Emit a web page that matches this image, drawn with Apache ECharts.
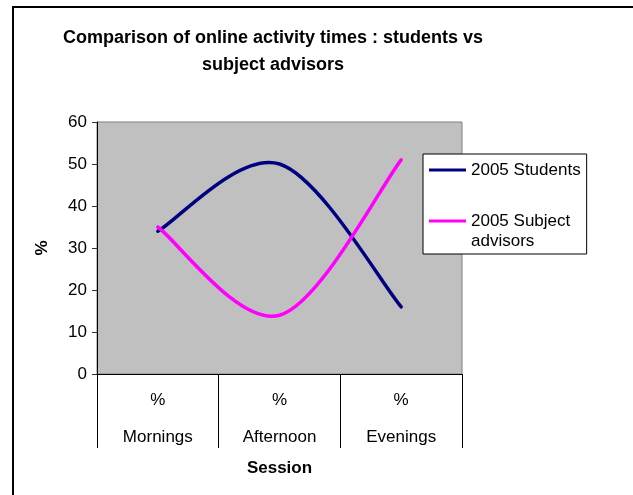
<!DOCTYPE html>
<html>
<head>
<meta charset="utf-8">
<script src="https://cdn.jsdelivr.net/npm/echarts@6/dist/echarts.min.js"></script>
<style>
html,body{margin:0;padding:0;background:#fff;}
#chart{width:633px;height:495px;}
</style>
</head>
<body>
<div id="chart"></div>
<script>
const categories = ['Mornings', 'Afternoon', 'Evenings'];
const categoryUnit = '%';
const students = [34, 50, 16];
const advisors = [35, 14, 51];
const seriesNames = ['2005 Students', '2005 Subject advisors'];
const yTicks = [0, 10, 20, 30, 40, 50, 60];

const FONT = '"Liberation Sans", Arial, sans-serif';

// Excel-style smoothed line (Catmull-Rom Bezier) drawn through the axes' scales
function smoothRenderer(values, color) {
  return function (params, api) {
    if (params.dataIndex !== 0) return null;
    const pts = values.map(function (v, i) { return api.coord([i, v]); });
    const n = pts.length;
    let d = 'M' + pts[0][0] + ' ' + pts[0][1];
    for (let i = 0; i < n - 1; i++) {
      const p0 = pts[Math.max(i - 1, 0)], p1 = pts[i], p2 = pts[i + 1], p3 = pts[Math.min(i + 2, n - 1)];
      const c1x = p1[0] + (p2[0] - p0[0]) / 6, c1y = p1[1] + (p2[1] - p0[1]) / 6;
      const c2x = p2[0] - (p3[0] - p1[0]) / 6, c2y = p2[1] - (p3[1] - p1[1]) / 6;
      d += ' C' + c1x + ' ' + c1y + ' ' + c2x + ' ' + c2y + ' ' + p2[0] + ' ' + p2[1];
    }
    return {
      type: 'path',
      shape: { pathData: d },
      style: { fill: 'none', stroke: color, lineWidth: 3.5, lineJoin: 'round', lineCap: 'round' }
    };
  };
}

const chart = echarts.init(document.getElementById('chart'));
chart.setOption({
  animation: false,
  backgroundColor: '#ffffff',
  title: {
    text: 'Comparison of online activity times : students vs\nsubject advisors',
    left: 268,
    top: 20,
    textAlign: 'center',
    textStyle: { fontFamily: FONT, fontSize: 18, fontWeight: 'bold', color: '#000', lineHeight: 27 }
  },
  graphic: [{
    type: 'rect', silent: true, z: 100,
    shape: { x: 13, y: 7, width: 640, height: 500 },
    style: { fill: 'none', stroke: '#000', lineWidth: 2 }
  }],
  legend: {
    orient: 'vertical',
    left: 423, top: 154,
    padding: [6, 6, 3, 6],
    itemGap: 11,
    itemWidth: 37, itemHeight: 3,
    icon: 'rect',
    backgroundColor: '#fff',
    borderColor: '#000', borderWidth: 1,
    data: seriesNames,
    formatter: function (n) { return n === seriesNames[1] ? ' \n2005 Subject\nadvisors' : n; },
    textStyle: { fontFamily: FONT, fontSize: 17, color: '#000', lineHeight: 20 }
  },
  grid: {
    left: 97, top: 122, width: 365, height: 252,
    show: true, backgroundColor: '#C0C0C0', borderColor: '#808080', borderWidth: 1,
    containLabel: false
  },
  xAxis: {
    type: 'category',
    data: categories,
    boundaryGap: true,
    name: 'Session',
    nameLocation: 'middle',
    nameGap: 86,
    nameTextStyle: { fontFamily: FONT, fontSize: 17, fontWeight: 'bold', color: '#000' },
    axisLine: { show: true, lineStyle: { color: '#000', width: 1 } },
    axisTick: { show: true, length: 74, interval: 0, lineStyle: { color: '#000' } },
    axisLabel: {
      interval: 0, margin: 8,
      formatter: function (v) { return '{u|' + categoryUnit + '}\n{n|' + v + '}'; },
      rich: {
        u: { fontFamily: FONT, fontSize: 17, color: '#000', lineHeight: 37 },
        n: { fontFamily: FONT, fontSize: 17, color: '#000', lineHeight: 37 }
      }
    },
    splitLine: { show: false }
  },
  yAxis: {
    type: 'value',
    min: yTicks[0], max: yTicks[yTicks.length - 1], interval: 10,
    name: '%',
    nameLocation: 'middle',
    nameGap: 46,
    nameRotate: 90,
    nameTextStyle: { fontFamily: FONT, fontSize: 17, fontWeight: 'bold', color: '#000' },
    axisLine: { show: true, lineStyle: { color: '#000', width: 1 } },
    axisTick: { show: true, length: 5, lineStyle: { color: '#333' } },
    axisLabel: { fontFamily: FONT, fontSize: 17, color: '#000', margin: 10 },
    splitLine: { show: false }
  },
  series: [
    { name: seriesNames[0], type: 'custom', data: students.map(function (v, i) { return [i, v]; }),
      encode: { x: 0, y: 1 }, clip: true,
      renderItem: smoothRenderer(students, '#000080'), itemStyle: { color: '#000080' } },
    { name: seriesNames[1], type: 'custom', data: advisors.map(function (v, i) { return [i, v]; }),
      encode: { x: 0, y: 1 }, clip: true,
      renderItem: smoothRenderer(advisors, '#FF00FF'), itemStyle: { color: '#FF00FF' } }
  ]
});
</script>
</body>
</html>
